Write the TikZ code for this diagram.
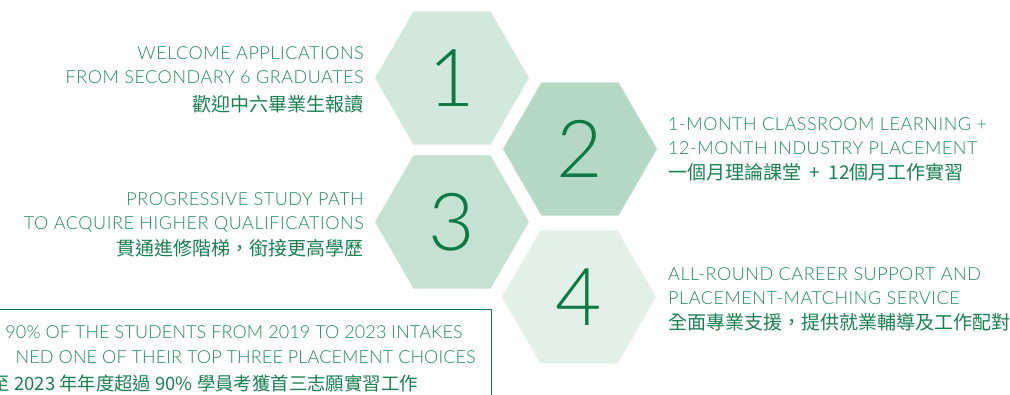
\documentclass[tikz,border=0pt]{standalone}
\usepackage{fontspec}
\setmainfont{Lato}[UprightFont=* Light, LetterSpace=3]
\newfontfamily\cjk{Noto Sans CJK TC}
\usetikzlibrary{shapes.geometric}
\definecolor{hexone}{HTML}{D3E8DC}
\definecolor{hextwo}{HTML}{B5D8C4}
\definecolor{hexthree}{HTML}{C5E1D1}
\definecolor{hexfour}{HTML}{E3F0E7}
\definecolor{numgreen}{HTML}{0B7A45}
\definecolor{txtgreen}{HTML}{1F8A5C}
\definecolor{zhgreen}{HTML}{17804F}
\newcommand\zh[1]{{\cjk\fontsize{19}{24}\selectfont\color{zhgreen}#1}}
\newcommand\zhnote[1]{{\cjk\fontsize{18.4}{24}\selectfont\color{zhgreen}#1}}

\begin{document}
\begin{tikzpicture}
  [ x=1pt, y=-1pt,
    hx/.style={regular polygon, regular polygon sides=6, minimum size=154pt,
      inner sep=0pt, text=numgreen, font=\fontsize{80}{80}\selectfont},
    hx1/.style={hx, fill=hexone},
    hx2/.style={hx, fill=hextwo},
    hx3/.style={hx, fill=hexthree},
    hx4/.style={hx, fill=hexfour},
    lblr/.style={anchor=north east, align=right, inner sep=0pt, text=txtgreen,
      font=\fontsize{18}{24}\selectfont},
    lbll/.style={anchor=north west, align=left, inner sep=0pt, text=txtgreen,
      font=\fontsize{18}{24}\selectfont},
    note/.style={anchor=east, inner sep=0pt, text=txtgreen,
      font=\fontsize{18}{24}\selectfont\addfontfeatures{LetterSpace=0.6}},
    frame/.style={draw=numgreen, line width=1pt}
  ]
  \useasboundingbox (0,0) rectangle (1010,395);

  % hexagons
  \node[hx1] (one) at (452,78) {1};
  \node[hx2] (two) at (580,149) {2};
  \node[hx3] (three) at (452,222) {3};
  \node[hx4] (four) at (579,297) {4};

  % labels
  \node[lblr] (welcome) at (364,46.5)
    {WELCOME APPLICATIONS\\FROM SECONDARY 6 GRADUATES\\[4pt]\zh{歡迎中六畢業生報讀}};
  \node[lblr] (study) at (364,192)
    {PROGRESSIVE STUDY PATH\\TO ACQUIRE HIGHER QUALIFICATIONS\\[2pt]\zh{貫通進修階梯，銜接更高學歷}};
  \node[lbll] (classroom) at (668,117)
    {1-MONTH CLASSROOM LEARNING +\\12-MONTH INDUSTRY PLACEMENT\\[1pt]\zh{一個月理論課堂~ + ~12個月工作實習}};
  \node[lbll] (career) at (668,267)
    {ALL-ROUND CAREER SUPPORT AND\\PLACEMENT-MATCHING SERVICE\\[1pt]\zh{全面專業支援，提供就業輔導及工作配對}};

  % box
  \draw[frame] (-10,310) rectangle (491,420);
  \node[note] (noteone) at (463,332) {90\% OF THE STUDENTS FROM 2019 TO 2023 INTAKES};
  \node[note] (notetwo) at (476,357) {NED ONE OF THEIR TOP THREE PLACEMENT CHOICES};
  \node[note] (notethree) at (418,383) {\zhnote{至 2023 年年度超過 90\% 學員考獲首三志願實習工作}};
\end{tikzpicture}
\end{document}
